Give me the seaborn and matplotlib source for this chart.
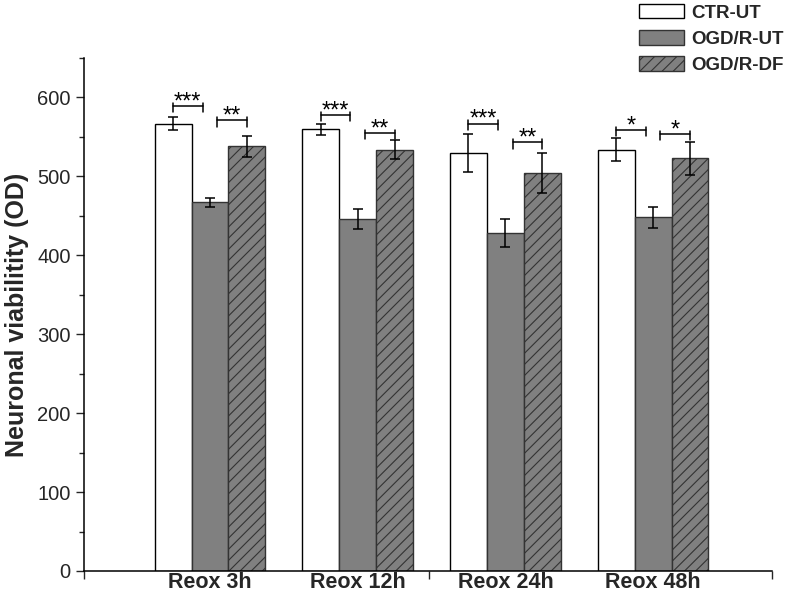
import numpy as np
import pandas as pd
import matplotlib
matplotlib.use("Agg")
import matplotlib.pyplot as plt
import seaborn as sns
from matplotlib.patches import Patch

# values
timepoints = ["Reox 3h", "Reox 12h", "Reox 24h", "Reox 48h"]
groups = ["CTR-UT", "OGD/R-UT", "OGD/R-DF"]
ctr_ut = [567, 560, 530, 534]
ogd_ut = [467, 446, 428, 448]
ogd_df = [538, 534, 504, 523]
ctr_err = [8, 7, 24, 15]
ogd_err = [6, 13, 18, 13]
df_err = [13, 12, 25, 21]
# significance: (CTR vs UT), (UT vs DF)
sig_left = ["***", "***", "***", "*"]
sig_right = ["**", "**", "**", "*"]
sig_left_y = [589, 578, 567, 559]
sig_right_y = [571, 555, 543, 554]

df = pd.DataFrame({
    "time": timepoints * 3,
    "group": [g for g in groups for _ in timepoints],
    "value": ctr_ut + ogd_ut + ogd_df,
})
errs = [ctr_err, ogd_err, df_err]

sns.set_style("ticks")
plt.rcParams["font.family"] = ["Liberation Sans", "DejaVu Sans"]
plt.rcParams["hatch.linewidth"] = 0.8

fig = plt.figure(figsize=(7.88, 5.93), dpi=100)
ax = fig.add_axes([84 / 788, 1 - 571 / 593, (772 - 84) / 788, (571 - 58) / 593])

colors = ["white", "#808080", "#808080"]
sns.barplot(data=df, x="time", y="value", hue="group", order=timepoints,
            hue_order=groups, palette=colors, width=0.75, errorbar=None,
            saturation=1, linewidth=1, edgecolor="black", ax=ax)
ax.get_legend().remove()

bar_conts = list(ax.containers)
edge_cols = ["black", "#333333", "#333333"]
for i, cont in enumerate(bar_conts):
    for j, bar in enumerate(cont):
        bar.set_edgecolor(edge_cols[i])
        if i == 2:
            bar.set_hatch("///")
        cx = bar.get_x() + bar.get_width() / 2
        ax.errorbar(cx, bar.get_height(), yerr=errs[i][j], color="black",
                    capsize=3.6, elinewidth=1.1, capthick=1.1, fmt="none")

# significance brackets
for j in range(len(timepoints)):
    b0, b1, b2 = bar_conts[0][j], bar_conts[1][j], bar_conts[2][j]
    w = b0.get_width()
    c0 = b0.get_x() + w / 2
    c1 = b1.get_x() + w / 2
    c2 = b2.get_x() + w / 2
    for xa, xb, yy, s in [(c0, c1 - 0.2 * w, sig_left_y[j], sig_left[j]),
                          (c1 + 0.2 * w, c2, sig_right_y[j], sig_right[j])]:
        ax.plot([xa, xb], [yy, yy], color="black", lw=1.1)
        ax.plot([xa, xa], [yy - 8, yy + 4], color="black", lw=1.1)
        ax.plot([xb, xb], [yy - 8, yy + 4], color="black", lw=1.1)
        ax.text((xa + xb) / 2, yy - 3, s, ha="center", va="baseline",
                fontsize=17, color="black")

ax.set_xlim(-0.853, 3.805)
ax.set_ylim(0, 650)
ax.set_yticks(np.arange(0, 601, 100))
ax.set_yticks(np.arange(50, 651, 100), minor=True)
ax.tick_params(axis="y", which="major", length=6, width=1, labelsize=14.5)
ax.tick_params(axis="y", which="minor", length=3.5, width=1)
ax.set_xticks(range(len(timepoints)))
ax.set_xticklabels(timepoints, fontsize=15.5, fontweight="bold")
ax.tick_params(axis="x", which="major", length=0, pad=1)
ax.set_xticks([-0.853, 1.483, 3.805], minor=True)
ax.tick_params(axis="x", which="minor", length=6, width=1)
ax.set_xlabel("")
ax.set_ylabel("Neuronal viabilitity (OD)", fontsize=18, fontweight="bold", labelpad=6)
for s in ["top", "right"]:
    ax.spines[s].set_visible(False)
for s in ["left", "bottom"]:
    ax.spines[s].set_linewidth(1.1)
    ax.spines[s].set_color("black")

handles = [
    Patch(facecolor="white", edgecolor="black", linewidth=1),
    Patch(facecolor="#808080", edgecolor="#333333", linewidth=1),
    Patch(facecolor="#808080", edgecolor="#333333", linewidth=1, hatch="///"),
]
fig.legend(handles, groups, loc="upper left", bbox_to_anchor=(628 / 788, 1.013),
           frameon=False, borderpad=0.1, handlelength=2.4, handleheight=0.85,
           handletextpad=0.4, labelspacing=0.45,
           prop={"size": 13.5, "weight": "bold"})

fig.savefig("out.png", dpi=100)
